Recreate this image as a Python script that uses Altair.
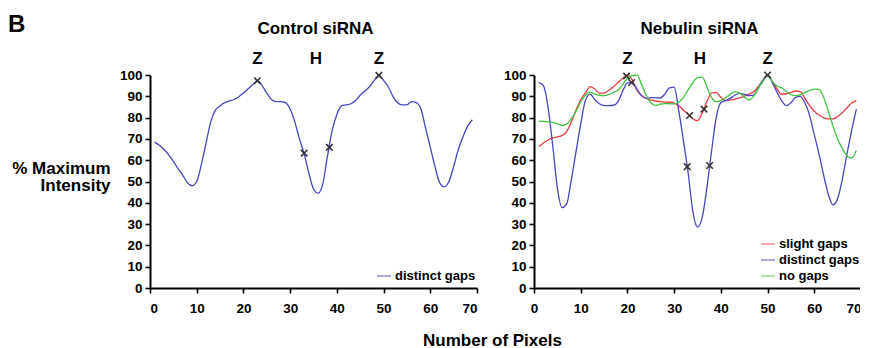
import altair as alt
import pandas as pd

FONT = "Liberation Sans"

pixels = list(range(1, 70))

control_distinct = [68.5, 67, 65, 62.5, 59.5, 56, 53, 49.5, 48, 50,
                    58, 68, 78, 83.5, 85.5, 87, 87.8, 88.5, 89.8, 91.5,
                    93.5, 95.5, 97.3, 95, 91.5, 88.5, 87.5, 87.5, 87, 84,
                    78, 70, 63, 54, 46.5, 44.5, 49, 62, 74, 81.5,
                    85.5, 86, 86.5, 88, 90.5, 92.5, 94.5, 97.5, 99.8, 97.5,
                    94.5, 90, 87, 86, 86, 87.5, 87, 84, 75, 66,
                    57, 49.5, 47.5, 50, 57, 65, 71, 76, 79]

neb_slight = [66.4, 68, 69.5, 70.5, 71, 71.5, 73.5, 78, 83.5, 88.5,
              91.5, 94.5, 93.4, 91.5, 91.5, 92.8, 94.5, 96.5, 98.5, 100,
              97.8, 93, 90.5, 89, 88.3, 87.8, 87.5, 87.3, 87.2, 86.8,
              85.5, 83.5, 81.5, 79.5, 78.5, 82, 87.5, 91.5, 91.8, 89.5,
              88, 88.3, 88.7, 89.3, 90, 91, 92, 94.5, 97.5, 100,
              97, 93.5, 91, 91.2, 91.8, 92.5, 92.2, 89, 85.6, 83,
              81.2, 80, 79.4, 79.4, 80.5, 82.3, 84.5, 86.8, 88]

neb_distinct = [96.5, 95, 85, 67, 47, 37.7, 39.5, 51, 64, 77,
                88, 91, 88.5, 86.5, 85.6, 85.6, 85.8, 87.5, 92.5, 96.3,
                96.5, 93.5, 90.3, 89, 89.4, 89.3, 89.2, 91, 94, 94.3,
                83, 69, 54, 36, 28.6, 33, 47, 64, 80, 87,
                88, 89, 90.5, 91.4, 91, 90.3, 90.5, 94, 97.5, 100,
                96.5, 92, 88, 85.6, 87, 89.5, 90, 87, 81, 72,
                63, 53, 44, 39, 42, 51, 63, 74, 84]

neb_none = [78.3, 78.2, 78, 77.8, 77.2, 76.3, 77, 79.5, 83, 87.5,
            90.5, 92, 91, 90.5, 90.3, 90.8, 91.8, 93, 95.5, 98.5,
            99.7, 100, 95.8, 90.5, 87, 85.7, 86.3, 86.6, 86.5, 86.4,
            87.2, 89.5, 93, 96.5, 98.8, 99, 94.5, 89.5, 87.5, 88,
            89.3, 91, 92.2, 91.5, 89.8, 88.2, 90, 93.6, 97, 99.7,
            97, 94.8, 94, 92.3, 90.8, 90.3, 90.8, 91.7, 92.8, 93.4,
            93.2, 89.5, 83, 76, 70, 65.5, 62, 61, 64.5]

ctrl_mark_x = [23, 33, 38.4, 49]
ctrl_mark_y = [97.3, 63.3, 66, 99.8]
neb_mark_x = [19.8, 20.9, 33.3, 36.4, 32.8, 37.6, 50]
neb_mark_y = [99.5, 96.5, 81, 84, 57, 57.5, 100]

band_labels = ["Z", "H", "Z"]
ctrl_band_x = [23, 35.5, 49]
neb_band_x = [20, 35.5, 50]

series_names = ["slight gaps", "distinct gaps", "no gaps"]
series_colors = ["#ee3b3b", "#4646c3", "#3fc43f"]

x_ticks = list(range(0, 71, 10))
y_ticks = list(range(0, 101, 10))

X_MARK = "M-1,-1L1,1M-1,1L1,-1"
W, H = 327, 213


def x_enc(first):
    kw = dict(values=x_ticks, grid=False, labelOverlap=False, tickCount=8)
    if first:
        kw.update(title="Number of Pixels", titleX=342, titleY=57,
                  titleBaseline="alphabetic", titleAlign="center",
                  titleFontSize=17, titleFontWeight="bold", titleFont=FONT,
                  titleColor="black")
    else:
        kw.update(title=None,
                  labelAlign={"condition": {"test": "datum.value == 70", "value": "right"},
                              "value": "center"})
    return alt.X("Pixel:Q", scale=alt.Scale(domain=[0, 70], nice=False, zero=False),
                 axis=alt.Axis(**kw))


def y_enc(first):
    kw = dict(values=y_ticks, grid=False, labelOverlap=False, tickCount=11)
    if first:
        kw.update(title=["% Maximum", "Intensity"], titleAngle=0, titleAlign="right",
                  titleBaseline="middle", titleX=-40, titleY=93.5,
                  titleFontSize=17, titleFontWeight="bold", titleFont=FONT,
                  titleColor="black", titleLineHeight=17)
    else:
        kw.update(title=None)
    return alt.Y("Intensity:Q", scale=alt.Scale(domain=[0, 100], nice=False),
                 axis=alt.Axis(**kw))


def legend(lx, ly):
    return alt.Legend(title=None, orient="none", legendX=lx, legendY=ly,
                      symbolType="stroke", symbolSize=196, symbolStrokeWidth=1.6,
                      symbolOpacity=0.55, labelFont=FONT, labelFontSize=13,
                      labelFontWeight="bold", labelColor="black", rowPadding=1,
                      padding=0, labelOffset=3)


def panel(df_lines, domain, colors, mark_x, mark_y, band_x, title, first, lx, ly):
    xe = x_enc(first)
    ye = y_enc(first)
    lines = alt.Chart(df_lines).mark_line(strokeWidth=1.3, interpolate="monotone").encode(
        x=xe,
        y=ye,
        color=alt.Color("Series:N", scale=alt.Scale(domain=domain, range=colors),
                        legend=legend(lx, ly)),
    )
    marks = alt.Chart(pd.DataFrame({"Pixel": mark_x, "Intensity": mark_y})).mark_point(
        shape=X_MARK, size=42, filled=False, stroke="#333333", strokeWidth=1.6, opacity=1
    ).encode(x=xe, y=ye)
    bands = alt.Chart(pd.DataFrame({"Pixel": band_x, "label": band_labels})).mark_text(
        font=FONT, fontSize=17, fontWeight="bold", baseline="alphabetic", color="black"
    ).encode(x=xe, y=alt.value(-11), text="label:N")
    heading = alt.Chart(pd.DataFrame({"t": [title]})).mark_text(
        font=FONT, fontSize=17, fontWeight="bold", baseline="alphabetic",
        align="center", color="black"
    ).encode(x=alt.value(W / 2 + 2), y=alt.value(-41), text="t:N")
    layers = [lines, marks, bands, heading]
    if first:
        letter = alt.Chart(pd.DataFrame({"t": ["B"]})).mark_text(
            font=FONT, fontSize=24, fontWeight="bold", align="left",
            baseline="alphabetic", color="black"
        ).encode(x=alt.value(-142), y=alt.value(-43), text="t:N")
        layers.append(letter)
    return alt.layer(*layers).properties(width=W, height=H)


df_ctrl = pd.DataFrame({"Pixel": pixels, "Intensity": control_distinct,
                        "Series": "distinct gaps"})
df_neb = pd.concat([
    pd.DataFrame({"Pixel": pixels, "Intensity": vals, "Series": name})
    for name, vals in zip(series_names, [neb_slight, neb_distinct, neb_none])
], ignore_index=True)

left = panel(df_ctrl, ["distinct gaps"], [series_colors[1]], ctrl_mark_x, ctrl_mark_y,
             ctrl_band_x, "Control siRNA", True, 226, 193)
right = panel(df_neb, series_names, series_colors, neb_mark_x, neb_mark_y,
              neb_band_x, "Nebulin siRNA", False, 226, 161)

chart = alt.hconcat(left, right, spacing=57, bounds="flush").properties(
    padding={"left": 0, "top": 5, "right": -2, "bottom": 0}
).resolve_scale(color="independent").configure_view(stroke=None).configure_axis(
    domainColor="black", domainWidth=2, tickColor="black", tickWidth=1.6, tickSize=5,
    labelFont=FONT, labelFontSize=13.5, labelFontWeight="bold", labelColor="black",
    labelPadding=3,
).configure_axisX(labelPadding=8)

chart.save("out.html", embed_options={"renderer": "svg", "actions": False})
